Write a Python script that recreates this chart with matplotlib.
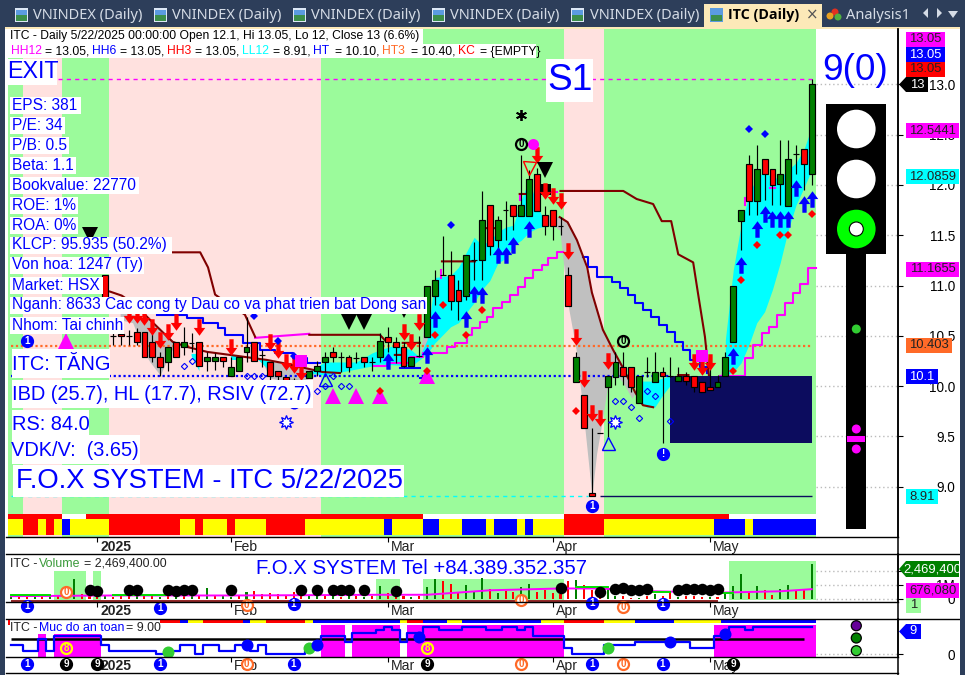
import numpy as np
import matplotlib
matplotlib.use("Agg")
import matplotlib.pyplot as plt
from matplotlib.path import Path
from matplotlib.patches import Rectangle, Circle, Polygon
from matplotlib.transforms import ScaledTranslation

plt.rcParams['font.family'] = ['Liberation Sans', 'DejaVu Sans']

W, H = 965, 675
NAN = float('nan')

# ---------- price candles ----------
first_bar = 12
opens = [11.10,10.50,10.52,10.50,10.54,10.54,10.44,10.29,10.24,10.44,10.39,10.43,10.44,10.25,10.25,10.29,10.10,10.15,10.34,10.44,10.31,10.24,10.15,10.09,10.06,10.05,10.08,10.15,10.24,10.34,10.29,10.29,10.28,10.29,10.24,10.29,10.49,10.44,10.39,10.20,10.30,10.49,10.90,11.10,11.10,10.96,10.90,11.25,11.25,11.80,11.45,11.75,11.80,11.69,11.69,12.11,11.70,11.75,11.59,11.10,10.04,9.91,8.94,9.53,9.99,10.09,10.19,10.19,9.83,10.14,10.04,10.14,10.10,10.05,10.10,10.10,10.04,9.99,9.99,10.10,10.44,11.64,12.21,11.84,12.26,12.16,12.01,11.79,12.31,12.36,12.11]
highs = [11.10,10.56,10.54,10.56,10.58,10.54,10.54,10.34,10.39,10.44,10.59,10.53,10.44,10.34,10.33,10.29,10.29,10.29,10.69,10.44,10.36,10.24,10.15,10.09,10.08,10.07,10.15,10.25,10.34,10.39,10.34,10.31,10.34,10.29,10.29,10.53,10.59,10.49,10.44,10.29,10.50,11.00,11.15,11.49,11.34,11.05,11.30,11.43,11.94,11.80,11.69,11.84,11.80,12.30,12.15,12.17,11.79,11.75,11.68,11.18,10.34,9.91,9.58,9.53,10.10,10.34,10.34,10.19,10.10,10.29,10.34,10.19,10.29,10.19,10.14,10.10,10.04,10.19,10.11,10.34,11.00,11.75,12.30,12.40,12.26,12.16,12.45,12.45,12.40,12.36,13.05]
lows = [10.85,10.41,10.41,10.41,10.41,10.29,10.24,10.10,10.15,10.29,10.31,10.34,10.20,10.15,10.16,10.19,10.10,10.15,10.24,10.25,10.19,10.05,10.05,10.05,10.03,10.02,10.08,10.10,10.14,10.24,10.14,10.14,10.23,10.19,10.15,10.24,10.34,10.23,10.19,10.20,10.29,10.49,10.81,11.10,10.76,10.66,10.86,11.05,11.05,11.30,11.35,11.45,11.55,11.69,11.69,11.74,11.50,11.45,11.50,10.80,10.04,9.58,8.91,9.53,9.49,10.01,10.01,9.94,9.83,10.09,10.04,9.43,10.09,10.05,10.01,9.94,9.94,9.96,9.99,10.10,10.44,11.35,11.70,11.70,11.85,11.80,11.80,11.79,12.11,11.95,12.00]
closes = [10.88,10.50,10.50,10.50,10.44,10.29,10.29,10.19,10.39,10.29,10.44,10.43,10.20,10.29,10.29,10.25,10.19,10.29,10.39,10.25,10.31,10.10,10.10,10.06,10.04,10.03,10.15,10.20,10.29,10.29,10.29,10.19,10.28,10.24,10.24,10.45,10.44,10.39,10.20,10.29,10.30,11.00,11.05,11.10,10.85,10.85,11.30,11.25,11.65,11.39,11.65,11.75,11.69,11.80,12.06,11.74,11.59,11.59,11.59,10.80,10.29,9.58,8.91,9.53,10.10,10.24,10.10,9.99,10.10,10.14,10.14,10.10,10.10,10.10,10.05,9.99,9.94,9.96,10.04,10.29,11.00,11.75,11.84,12.16,12.11,12.00,12.11,12.26,12.31,12.21,13.00]

# ---------- background zones (bar edges) ----------
zone_edges = [-0.5, 1.5, 6.5, 12.5, 39.5, 70.5, 75.5, 102.5]
zone_kinds = ['g', 'p', 'g', 'p', 'g', 'p', 'g']

# ---------- indicator lines ----------
darkred_a_x = [20.5,24.1,25.1,26,26.9,29.8,31.1]
darkred_a_y = [11.33,11.33,11.18,10.91,10.86,10.71,10.49]
darkred_b_x = [12.6,14.1,15.8,17.7,19.4,20.6,22.4,25,27.9,32.6,34.6,39.7,41.9]
darkred_b_y = [10.94,10.90,10.81,10.66,10.53,10.44,10.39,10.34,10.31,10.26,10.23,10.14,10.13]
darkred_c_x = [38,47,47.7,NAN,48.9,49.9,NAN,49.9,52.1,NAN,54.9,59.1,NAN,60.4,61.7,NAN,64.8,65.6,NAN,85,86.3]
darkred_c_y = [10.51,10.51,10.45,NAN,10.31,10.31,NAN,10.43,10.43,NAN,11.24,11.24,NAN,11.57,11.57,NAN,11.91,11.91,NAN,10.11,10.11]
darkred_d_x = [70,78,79.7,81.8,82.9,84.1,85,86.9,87.5,88.4,88.9]
darkred_d_y = [11.94,11.94,11.86,11.81,11.64,11.64,11.31,11.23,10.93,10.49,10.11]
darkred_e_x = [69.9,70.9,72.1,73.4,74,75.4,76.7,77.9,79.5,80.5,81.8]
darkred_e_y = [11.68,11.63,11.45,11.18,10.93,10.56,10.36,10.19,9.94,9.81,9.79]

blue_a_x = [18.6,19.4,22.4,24.5,26.4,27.3,29.6,31.7,33.6,35.9,37.7,39.4]
blue_a_y = [10.71,10.71,10.68,10.63,10.58,10.51,10.43,10.36,10.33,10.28,10.23,10.23]
blue_b_x = [72.9,73.5,74.6,76.6,77.6,78.6,79.5,80.5,81.5,82.5,83.6,84.6,85.6,86.5,87.8,88.7]
blue_b_y = [11.28,11.18,11.08,11.03,10.98,10.91,10.83,10.76,10.69,10.61,10.54,10.44,10.36,10.26,10.19,10.13]
blue_c_x = [49.5,52.1,NAN,52.1,53.2]
blue_c_y = [10.18,10.18,NAN,10.08,10.08]

magenta_a_x = [31.1,38]
magenta_a_y = [10.48,10.52]
magenta_b_x = [46.1,47.9,50.8,52.5,54.6,55.5,56.6,58.1,58.7,59.7,60.6,61.4,62.5,63.6,64.6,65.5,66.5,67.6,68.4,69.5,70.3]
magenta_b_y = [10.20,10.23,10.29,10.33,10.33,10.39,10.43,10.51,10.58,10.64,10.69,10.78,10.84,10.91,10.99,11.07,11.15,11.20,11.27,11.33,11.33]
magenta_c_x = [90.3,93.5,94.5,95.7,96.5,97.6,98.6,99.6,100.5,101.5,102.5]
magenta_c_y = [10.10,10.28,10.41,10.53,10.59,10.71,10.83,10.93,11.02,11.17,11.17]
magenta_d_x = [54.8,54.8,NAN,64.8,64.8,NAN,68.7,69.5,NAN,93.5,93.5,NAN,96.7,97.3]
magenta_d_y = [11.15,11.07,NAN,11.90,11.85,NAN,11.93,11.93,NAN,11.87,11.80,NAN,11.97,11.97]

# ---------- filled bands ----------
cyan1_x = [38,40,42,44,46,47,49,51,52,53,54,56,57,59,60,61,62,63,64,65,66,67,68]
cyan1_up = [10.15,10.24,10.24,10.24,10.33,10.36,10.41,10.36,10.29,10.46,11.08,11.10,11.18,11.48,11.40,11.45,11.53,11.58,11.60,11.85,12.05,11.80,11.63]
cyan1_lo = [10.13,10.11,10.14,10.17,10.20,10.22,10.21,10.20,10.26,10.32,10.43,10.59,10.63,10.83,10.96,11.05,11.22,11.27,11.40,11.45,11.53,11.57,11.59]
cyan2_x = [91,92,93,94,95,96,97,98,99,100,101,102]
cyan2_up = [10.46,11.15,11.60,11.90,12.08,12.13,12.07,12.07,12.15,12.22,12.35,12.58]
cyan2_lo = [10.11,10.14,10.23,10.41,10.63,10.74,10.96,11.23,11.55,11.80,11.97,12.15]
cyan3_x = [80,81,82,83,84]
cyan3_up = [10.05,10.05,10.05,10.08,10.10]
cyan3_lo = [9.86,9.79,9.79,9.91,10.01]
cyan4_x = [23,24,NAN,28,29,NAN,31.5,33]
cyan4_up = [10.32,10.32,NAN,10.31,10.31,NAN,10.26,10.26]
cyan4_lo = [10.30,10.15,NAN,10.26,10.26,NAN,10.26,10.15]

grey1_x = [13.9,15.5,17,17.7,19,20.5,21.5]
grey1_up = [10.73,10.71,10.68,10.66,10.57,10.46,10.41]
grey1_lo = [10.66,10.63,10.33,10.24,10.11,10.36,10.39]
grey2_x = [32,33,34.9,36.8,38.1,39.4]
grey2_up = [10.26,10.25,10.22,10.19,10.17,10.15]
grey2_lo = [10.24,10.08,10.05,10.05,10.08,10.12]
grey3_x = [52.1,52.6,53.1]
grey3_up = [10.29,10.61,10.86]
grey3_lo = [10.26,10.31,10.46]
grey4_x = [68,69,69.9,71,72,73,74,74.6,75.4,76,77,78,79.1,79.5]
grey4_up = [11.70,11.69,11.68,11.63,11.45,11.23,10.93,10.76,10.56,10.46,10.34,10.19,9.96,9.93]
grey4_lo = [11.60,11.60,11.55,10.79,10.36,9.66,8.91,9.33,9.69,10.01,10.13,10.03,9.88,9.93]
grey5_x = [90.3,91.2]
grey5_up = [10.10,10.36]
grey5_lo = [10.10,10.10]

# ---------- signals ----------
red_arrow_x = [15,16,17,18,19,20,21,24,28,33,34,35,36,37,50,51,52,67,68,69,70,71,72,73,74,75,76,87,88,89]
red_arrow_y = [10.71,10.71,10.69,10.59,10.46,10.54,10.64,10.59,10.39,10.44,10.36,10.24,10.21,10.14,10.54,10.44,10.64,12.30,11.94,11.89,11.84,11.34,10.49,10.07,9.73,9.68,10.25,10.24,10.19,10.24]
blue_arrow_x = [48,53,54,58,59,60,62,63,64,66,92,93,95,96,97,98,99,100,101,102]
blue_arrow_y = [10.25,10.31,10.67,10.67,10.92,10.91,11.30,11.30,11.40,11.56,10.30,11.20,11.56,11.71,11.66,11.66,11.66,11.97,11.81,11.86]
red_dot_x = [55,54,58,60,47,53,93,95,98,99,102,72,92]
red_dot_y = [10.81,10.51,10.51,10.76,9.95,10.15,11.05,11.40,11.50,11.50,11.71,9.75,10.15]
blue_dot_x = [94,96,56,31,34,36]
blue_dot_y = [12.56,12.51,11.60,10.70,10.45,10.30]
hollow_x = [22,23,30,31,32,39,40,41,42,43,77,78,79,80,81,82,84]
hollow_y = [10.20,10.25,10.10,10.10,10.10,9.95,10.00,10.10,10.00,10.00,9.85,9.85,9.79,9.68,9.95,9.90,9.65]
pink_tri_x = [7,41,44,47,53]
pink_tri_y = [10.45,9.90,9.90,9.90,10.10]
black_tri_x = [10,43,45,68]
black_tri_y = [11.50,10.64,10.64,12.15]
pink_sq_x = [37,88]
pink_sq_y = [10.25,10.30]

lvl_hh = 13.05
lvl_ht = 10.10
lvl_ht3 = 10.403
lvl_ll = 8.91

# ---------- colour strip ----------
strip2_edges = [-0.5,1.5,3.5,4.5,5.5,6.5,7.5,12.5,21.5,23.5,24.5,27.5,28.5,32.5,37.5,47.5,48.5,52.5,54.5,57.5,60.5,61.5,64.5,65.5,66.5,70.5,75.5,89.5,93.5,94.5,102.5]
strip2_seq = ['y','r','y','r','y','b','y','r','y','r','y','r','y','r','y','b','y','b','y','b','y','b','y','b','y','r','y','b','y','b']
strip1_edges = [-0.5,6.5,9.5,52.5,70.5,91.5,102.5]
strip1_cols = list("rwrwrw")

# ---------- volume panel (millions) ----------
volume = [.19,.19,.24,.19,.19,.19,.19,.36,1.43,.36,.24,.19,.19,.12,.19,.24,.19,.19,.24,.14,.24,.29,.19,.24,.19,.76,.24,.19,.14,.19,.48,.60,.36,.43,.36,.29,.48,.19,.29,.19,.19,.24,.14,.19,.19,.14,.24,.90,.43,.24,.19,.12,.24,.83,1.43,1.31,1.07,.48,1.00,.52,1.48,.71,.43,.60,.52,.83,1.07,.48,.67,.43,.36,1.31,1.36,1.00,.67,.24,.71,.19,.24,.07,.07,.19,.36,.19,.48,.17,.19,.19,.12,.12,.12,.48,.95,1.79,.52,.90,.64,.29,.71,1.00,.64,.71,2.47]
vol_kind = "grrgrgrggrrrgrrrgrrgrgrgrgrggrgrrrrrrrggrgrgrgrgrrrgrggrrrgggrgrrggrrrrrgrrrggrrgrgrrgrrrgrgggrgrrggrrg"
ma_x = [0,13,28,37,47,53,61,70,75,82,90,94,98,102]
ma_y = [.20,.25,.25,.27,.30,.30,.62,.75,.75,.55,.45,.50,.55,.70]
ma_green_x = [0,5,NAN,13,20,NAN,72,76,NAN,81,84,NAN,90,92]
ma_green_y = [.25,.25,NAN,.25,.25,NAN,.82,.82,NAN,.50,.50,NAN,.43,.43]
vol_zone_x0 = [5.5,10.5,46.5,52.5,91.5]
vol_zone_x1 = [9.5,11.5,49.5,70.5,102.5]
vol_zone_top = [2.0,2.0,1.43,1.43,2.71]
vol_dot_x = [10,11,15,16,20,21,22,23,28,37,39,41,42,43,45,49,70,75,77,78,79,80,81,85,86,87,88,89,90]
vol_dot_y = [.64,.60,.64,.64,.64,.58,.62,.66,.64,.64,.64,.64,.64,.64,.62,.60,.78,.50,.72,.76,.66,.62,.72,.64,.72,.72,.68,.66,.72]

# ---------- safety level panel ----------
safety = [3,3,1,1,5,1,6,6,6,6,6,6,3,1,1,1,1,1,1,0,0,1,3,3,0,3,3,1,1,3,3,1,3,0,0,0,0,0,1,3,6,6,6,4,7,7,7,8,9,8,4,7,7,9,9,8,8,8,9,9,9,8,8,9,9,8,9,6,6,6,6,2,0,0,0,0,3,3,3,3,4,4,4,4,4,4,4,2,2,2,6,6,9,9,8,9,9,9,9,9,9,9,9]
safety_line = 5
mag_edges0 = [3.5,5.5,39.5,43.5,50.5,89.5]
mag_edges1 = [4.5,11.5,42.5,49.5,70.5,102.5]
mag_tops = [6.5,6.5,9.7,9.7,9.7,9.7]
s_strip_edges = [19,21.5,22.5,24.5,29.5,30.5,32.5,37.5,38.5,49.5,50.5,52.5,55.5,57.5,67.5,70.5,75.5,79.5,84.5,90.5,102.5]
s_strip_seq = ['r','b','y','r','b','y','r','y','b','y','r','b','y','b','y','r','y','b','y','b']
s_dot_x = [20,30,38,39,52,76,84,91]
s_dot_y = [.7,3,2,3,5.7,2,4,6.7]
s_dot_k = ['lime','blue','lime','blue','blue','lime','blue','blue']

tick_pos = [11, 28, 48, 69, 89]
tick_txt = ['2025', 'Feb', 'Mar', 'Apr', 'May']

# ---------- colours ----------
C = {'g': '#9BFB9B', 'p': '#FFE1DF', 'r': '#FF0000', 'y': '#FFFF00', 'b': '#0000FF', 'w': '#FFFFFF'}
GREEN, RED, BLUE, MAG, CYAN = '#008000', '#FF0000', '#0000FF', '#FF00FF', '#00FFFF'
DKRED, ORANGE, NAVY, GREY = '#800000', '#FF6A28', '#0C0C5E', '#C0C0C0'
BG = '#2D3E5A'


def ax_px(x0, y0, x1, y1, z):
    a = fig.add_axes([x0 / W, 1 - y1 / H, (x1 - x0) / W, (y1 - y0) / H], zorder=z)
    a.patch.set_alpha(0)
    return a


fig = plt.figure(figsize=(W / 100, H / 100), dpi=100, facecolor=BG)
back = ax_px(0, 0, W, H, 0)
back.set_xlim(0, W); back.set_ylim(H, 0); back.axis('off')
over = ax_px(0, 0, W, H, 10)
over.set_xlim(0, W); over.set_ylim(H, 0); over.axis('off')


def rect(a, x0, y0, x1, y1, c, z=1, **k):
    a.add_patch(Rectangle((x0, y0), x1 - x0, y1 - y0, fc=c, ec='none', zorder=z, **k))


rect(back, 5, 29, 960, 675, 'white')
rect(back, 5, 27, 960, 29, '#FCE9B8')

XL = ((8 - 11) / 7.85, (898 - 11) / 7.85)
m = ax_px(8, 29, 898, 537, 2)
m.set_xlim(*XL); m.set_ylim(8.50, 13.55)
v = ax_px(8, 554, 898, 601.5, 2)
v.set_xlim(*XL); v.set_ylim(-0.18, 3.21)
s = ax_px(8, 618.5, 898, 656.5, 2)
s.set_xlim(*XL); s.set_ylim(-0.83, 11.83)
strip = ax_px(8, 514, 898, 535, 3)
strip.set_xlim(*XL); strip.set_ylim(21, 0); strip.axis('off')

PX = 0.72
for a in (m, v, s):
    for k in ('top', 'left', 'bottom'):
        a.spines[k].set_visible(False)
    a.spines['right'].set_linewidth(1.1)
    a.yaxis.tick_right()
    a.tick_params(axis='y', length=5 * PX, width=0.8, pad=50 * PX - 5 * PX + 5, labelsize=13.5 * PX)
    a.set_xticks(tick_pos)
    a.set_xticklabels(tick_txt, ha='left', fontsize=14 * PX, color='#222222')
    a.tick_params(axis='x', length=5 * PX, direction='out', width=0.8, pad=-1.5)
    a.get_xticklabels()[0].set_fontweight('bold')
    shift = ScaledTranslation(3 / 100, 0, fig.dpi_scale_trans)
    for t in a.get_xticklabels():
        t.set_transform(t.get_transform() + shift)
    for t in a.get_yticklabels():
        t.set_ha('right')

# ---- main panel ----
for i, k in enumerate(zone_kinds):
    m.axvspan(zone_edges[i], zone_edges[i + 1], color=C[k], lw=0, zorder=0.1)
m.set_yticks([9, 9.5, 10, 10.5, 11, 11.5, 12, 12.5, 13])
m.set_yticklabels(['9.0', '9.5', '10.0', '10.5', '11.0', '11.5', '12.0', '12.5', '13.0'], ha='right')
m.hlines([9, 9.5, 10, 10.5, 11, 11.5, 12, 12.5, 13], 102.5, XL[1], color='#BBBBBB', lw=1, linestyles=(0, (1, 2)), zorder=0.2)

m.fill_between(grey1_x, grey1_lo, grey1_up, color=GREY, lw=0, zorder=0.5)
m.fill_between(grey2_x, grey2_lo, grey2_up, color=GREY, lw=0, zorder=0.5)
m.fill_between(grey3_x, grey3_lo, grey3_up, color=GREY, lw=0, zorder=0.5)
m.fill_between(grey4_x, grey4_lo, grey4_up, color=GREY, lw=0, zorder=0.5)
m.fill_between(grey5_x, grey5_lo, grey5_up, color=GREY, lw=0, zorder=0.5)
for bx, bu, bl in ((cyan1_x, cyan1_up, cyan1_lo), (cyan2_x, cyan2_up, cyan2_lo), (cyan3_x, cyan3_up, cyan3_lo), (cyan4_x, cyan4_up, cyan4_lo)):
    m.fill_between(bx, bl, bu, color=CYAN, lw=0, zorder=0.6)

m.hlines(lvl_hh, 6, 102, color=MAG, lw=1, linestyles=(0, (3, 3)), zorder=1)
m.hlines(lvl_ht3, 0, 102, color=ORANGE, lw=1.6, linestyles=(0, (1, 1.2)), zorder=1)
m.hlines(lvl_ht, 0, 84, color=BLUE, lw=1.6, linestyles=(0, (1, 1.2)), zorder=1)
m.hlines(lvl_ll, 0, 73.5, color=CYAN, lw=1, linestyles=(0, (3, 3)), zorder=1)
m.hlines(lvl_ll, 75, 102, color=NAVY, lw=1, zorder=1)

lw = 1.5
for lx, ly in ((blue_a_x, blue_a_y), (blue_b_x, blue_b_y), (blue_c_x, blue_c_y)):
    m.plot(lx, ly, color=BLUE, lw=lw, drawstyle='steps-post', zorder=1.2)
for lx, ly in ((magenta_a_x, magenta_a_y), (magenta_b_x, magenta_b_y), (magenta_c_x, magenta_c_y)):
    m.plot(lx, ly, color=MAG, lw=lw, drawstyle='steps-post' if lx is not magenta_a_x else 'default', zorder=1.2)
m.plot(magenta_d_x, magenta_d_y, color=MAG, lw=lw, zorder=1.2)
for lx, ly in ((darkred_a_x, darkred_a_y), (darkred_b_x, darkred_b_y), (darkred_c_x, darkred_c_y), (darkred_d_x, darkred_d_y), (darkred_e_x, darkred_e_y)):
    m.plot(lx, ly, color=DKRED, lw=lw, zorder=1.3)

m.bar([84], [10.10 - 9.43], bottom=[9.43], width=18, align='edge', color=NAVY, lw=0, zorder=1.4)

# candles
idx = np.arange(first_bar, first_bar + len(closes))
o, h, l, c = map(np.array, (opens, highs, lows, closes))
m.vlines(idx, l, h, color='black', lw=0.85, zorder=3)
bcol = [GREEN if cc > oo else (RED if cc < oo else 'black') for oo, cc in zip(o, c)]
bot = np.minimum(o, c)
m.bar(idx, np.abs(c - o), bottom=bot, width=0.74, color=bcol, edgecolor='black', lw=0.85, zorder=3.2)

arrow_down = Path([(-.26, 1), (.26, 1), (.26, -.05), (.7, -.05), (0, -1), (-.7, -.05), (-.26, -.05), (-.26, 1)], closed=True)
arrow_up = Path([(-.26, -1), (.26, -1), (.26, .05), (.7, .05), (0, 1), (-.7, .05), (-.26, .05), (-.26, -1)], closed=True)
mk = dict(ls='none', zorder=4)
m.plot(pink_tri_x, pink_tri_y, marker='^', ms=15 * PX * 1.1, color=MAG, mew=0, **mk)
m.plot(red_arrow_x, red_arrow_y, marker=arrow_down, ms=16.5 * PX, color=RED, mew=0, **mk)
m.plot(blue_arrow_x, blue_arrow_y, marker=arrow_up, ms=16.5 * PX, color=BLUE, mew=0, **mk)
m.plot(red_dot_x, red_dot_y, marker='D', ms=4.5, color=RED, mew=0, **mk)
m.plot(blue_dot_x, blue_dot_y, marker='D', ms=4.5, color=BLUE, mew=0, **mk)
m.plot(hollow_x, hollow_y, marker='D', ms=3.2, mfc='none', mec=BLUE, mew=0.8, **mk)
m.plot(black_tri_x, black_tri_y, marker='v', ms=15 * PX * 1.1, color='black', mew=0, **mk)
m.plot([50], [10.71], marker='v', ms=5, color='black', mew=0, **mk)
m.plot(pink_sq_x, pink_sq_y, marker='s', ms=12 * PX, color=MAG, mew=0, **mk)
m.plot([66.5], [12.41], marker='o', ms=11 * PX, color=MAG, mew=0, **mk)
m.plot([68], [11.96], marker='s', ms=11 * PX, color='black', mew=0, zorder=3.1, ls='none')
m.plot([65], [12.70], marker=(6, 2, 0), ms=11 * PX, color='black', mew=1.3, **mk)
m.plot([40, 76], [10.07, 9.43], marker='^', ms=13 * PX, mfc='none', mec=BLUE, mew=1, **mk)
m.plot([66], [12.17], marker='v', ms=13 * PX, mfc='none', mec=RED, mew=1, **mk)
m.plot([35, 77], [9.64, 9.64], marker=(8, 1, 0), ms=14 * PX, mfc='white', mec=BLUE, mew=0.9, **mk)
m.plot([36], [9.83], marker='o', ms=12 * PX, color=BLUE, mew=0, ls='none', zorder=2)


def badge(a, x, y, txt, ring, fc='white', tc=None):
    a.plot([x], [y], marker='o', ms=11 * PX, mfc=fc, mec=ring, mew=1.6, ls='none', zorder=8, clip_on=False)
    a.text(x, y, txt, ha='center', va='center', fontsize=8.5 * PX + 1, fontweight='bold',
           color=tc or ring, zorder=9, clip_on=False)


BLK = 'black'
for bx, by in ((2, 10.45), (74, 8.81)):
    badge(m, bx, by, '1', BLUE, BLUE, 'white')
badge(m, 83, 9.33, '!', BLUE, BLUE, 'white')
for bx, by in ((65, 12.41), (78, 10.45)):
    badge(m, bx, by, '0', BLK, '#9BFB9B', BLK)

# colour strip
for i, k in enumerate(strip1_cols):
    strip.bar(strip1_edges[i], 5, bottom=0, width=strip1_edges[i + 1] - strip1_edges[i], align='edge', color=C[k], lw=0)
for i, k in enumerate(strip2_seq):
    strip.bar(strip2_edges[i], 16, bottom=5, width=strip2_edges[i + 1] - strip2_edges[i], align='edge', color=C[k], lw=0)

# ---- volume panel ----
for x0, x1, tp in zip(vol_zone_x0, vol_zone_x1, vol_zone_top):
    v.bar(x0, tp + 0.07, bottom=-0.07, width=x1 - x0, align='edge', color=C['g'], lw=0, zorder=0.3)
v.set_yticks([0, 1, 2])
v.set_yticklabels(['0', '1M', '2M'], ha='right')
v.hlines([0, 1, 2], 102.5, XL[1], color='#BBBBBB', lw=1, linestyles=(0, (1, 2)), zorder=0.2)
vb = np.arange(len(volume))
v.bar(vb, volume, width=0.26, color=[GREEN if k == 'g' else RED for k in vol_kind[:len(volume)]], lw=0, zorder=1)
v.plot(ma_x, ma_y, color=MAG, lw=1.4, zorder=1.5)
v.plot(ma_green_x, ma_green_y, color='#00E000', lw=1.4, zorder=1.6)
v.hlines(-0.12, 0, 90, color=DKRED, lw=1.2, zorder=1.7)
v.plot(vol_dot_x, vol_dot_y, marker='o', ms=11.5 * PX, color='black', mew=0, ls='none', zorder=2)
OR = ORANGE
for bx, by in ((2, -.5), (19, -.64), (36, -.36), (74, -.29), (83, -.36)):
    badge(v, bx, by, '1', BLUE, BLUE, 'white')
for bx, by in ((7, .5), (30, -.43), (65, -.07), (78, -.57)):
    badge(v, bx, by, '0', OR, 'white', OR)

# ---- safety panel ----
for x0, x1, tp in zip(mag_edges0, mag_edges1, mag_tops):
    s.bar(x0, tp + 0.83, bottom=-0.83, width=x1 - x0, align='edge', color=MAG, lw=0, zorder=0.3)
for i, k in enumerate(s_strip_seq):
    s.bar(s_strip_edges[i], 1.6, bottom=10.2, width=s_strip_edges[i + 1] - s_strip_edges[i], align='edge', color=C[k], lw=0, zorder=0.4)
s.set_yticks([0])
s.set_yticklabels(['0'], ha='right')
s.hlines([0], 102.5, XL[1], color='#BBBBBB', lw=1, linestyles=(0, (1, 2)), zorder=0.2)
s.hlines(safety_line, 0, 101, color='black', lw=1.8, zorder=1)
s.step(np.arange(len(safety)), safety, where='mid', color=BLUE, lw=1.6, zorder=1.5)
for k, col in (('lime', '#32CD32'), ('blue', BLUE)):
    xs = [a for a, b in zip(s_dot_x, s_dot_k) if b == k]
    ys = [a for a, b in zip(s_dot_y, s_dot_k) if b == k]
    s.plot(xs, ys, marker='o', ms=12 * PX, color=col, mew=0, ls='none', zorder=2)
for bx in (2, 19, 36, 74, 83):
    badge(s, bx, -3.33, '1', BLUE, BLUE, 'white')
for bx in (7, 11, 53, 92):
    badge(s, bx, -3.33, '9', BLK, BLK, 'white')
for bx in (30, 65, 78):
    badge(s, bx, -3.33, '0', OR, 'white', OR)
for bx in (7, 53):
    badge(s, bx, 2, '8', '#FFFF00', '#FF00FF', '#FFFF00')

# ---- separators ----
for yy in (537, 554, 601.5, 618.5, 656.5, 673):
    over.plot([6, 898], [yy, yy], color='black', lw=1.0, zorder=1)
over.plot([898, 898], [29, 675], color='black', lw=1.1, zorder=1)
for yy, xa, xb in ((618.5, 898, 960), (554, 898, 960)):
    over.plot([xa, xb], [yy, yy], color='black', lw=1.0, zorder=1)


def T(x, y, txt, size, col=BLUE, box=None, ha='left', **k):
    if box:
        rect(over, box[0], box[1], box[2], box[3], box[4] if len(box) > 4 else 'white', z=2)
    over.text(x, y, txt, fontsize=size * PX, color=col, ha=ha, va='center', zorder=3, **k)


# ---- tabs ----
for tx, ix in ((33, 15), (172, 154), (311, 293), (450, 432), (590, 571)):
    rect(over, ix, 8, ix + 13, 22, '#DCE7F5', z=2)
    rect(over, ix + 1, 15, ix + 12, 21, '#3C8F4A', z=2.1)
    rect(over, ix + 1, 10, ix + 12, 15, '#5B9BE0', z=2.1)
    T(tx, 15.5, 'VNINDEX (Daily)', 14.6, '#D5DCE6', family='Noto Sans')
rect(over, 704, 4, 822, 27, '#FCE9B8', z=2)
rect(over, 710, 8, 723, 22, '#5B9BE0', z=2.1)
rect(over, 711, 15, 722, 21, '#3C8F4A', z=2.2)
T(728, 15.5, 'ITC (Daily)', 14.2, 'black', fontweight='bold', family='Open Sans')
T(812, 15, '×', 15, '#555555', ha='center', family='DejaVu Sans')
over.add_patch(Circle((835, 12), 3.5, fc='#E03020', ec='none', zorder=2))
over.add_patch(Circle((830, 16), 3.5, fc='#E8A020', ec='none', zorder=2))
over.add_patch(Circle((838, 17), 3.5, fc='#50B040', ec='none', zorder=2))
T(846, 15.5, 'Analysis1', 14.6, '#D5DCE6', family='Noto Sans')
over.add_patch(Polygon([(928, 8), (928, 18), (923, 13)], fc='#D5DCE6', zorder=2))
over.add_patch(Polygon([(937, 8), (937, 18), (942, 13)], fc='#D5DCE6', zorder=2))
over.add_patch(Polygon([(948, 11), (958, 11), (953, 18)], fc='#D5DCE6', zorder=2))

# ---- header ----
rect(over, 8, 29, 423, 44, 'white', z=2)
T(10, 36.5, 'ITC - Daily 5/22/2025 00:00:00 Open 12.1, Hi 13.05, Lo 12, Close 13 (6.6%)', 12.15, 'black')
rect(over, 8, 44, 536, 58, 'white', z=2)
for x, txt, col in ((10.5, 'HH12', MAG), (45, '= 13.05,', 'black'), (92, 'HH6', BLUE), (120, '= 13.05,', 'black'),
                    (167, 'HH3', RED), (195, '= 13.05,', 'black'), (242, 'LL12', CYAN), (273, '= 8.91,', 'black'),
                    (313, 'HT', BLUE), (335, '= 10.10,', 'black'), (382, 'HT3', ORANGE), (411, '= 10.40,', 'black'),
                    (458, 'KC', RED), (480, '= {EMPTY}', 'black')):
    T(x, 51.5, txt, 12.15, col)

# ---- left info block ----
T(7, 72, 'EXIT', 23.3, BLUE, box=(7, 59, 57, 85))
info = [('EPS: 381', 81), ('P/E: 34', 65), ('P/B: 0.5', 69), ('Beta: 1.1', 76), ('Bookvalue: 22770', 139),
        ('ROE: 1%', 78), ('ROA: 0%', 78), ('KLCP: 95.935 (50.2%)', 172), ('Von hoa: 1247 (Ty)', 144), ('Market: HSX', 103),
        ('Nganh: 8633 Cac cong ty Dau co va phat trien bat Dong san', 427), ('Nhom: Tai chinh', 124)]
for n, (txt, xr) in enumerate(info):
    yc = 105 + 20 * n
    T(11.5, yc, txt, 15.5, BLUE, box=(10, yc - 8.5, xr, yc + 8.5))
T(12.5, 364, 'ITC: TĂNG', 20, BLUE, box=(12, 349, 110, 378))
T(12.5, 395, 'IBD (25.7), HL (17.7), RSIV (72.7)', 20, BLUE, box=(12, 380, 313, 408))
T(12.5, 424, 'RS: 84.0', 20, BLUE, box=(12, 410, 89, 438))
T(11, 450, 'VDK/V:  (3.65)', 20, BLUE, box=(12, 435, 140, 464))
T(15.5, 481, 'F.O.X SYSTEM - ITC 5/22/2025', 27.4, BLUE, box=(13, 465, 404, 497))
T(256, 568, 'F.O.X SYSTEM Tel +84.389.352.357', 20.4, BLUE)
T(547, 81, 'S1', 37, BLUE, box=(546, 59, 593, 102))
T(822, 70, '9(0)', 37, BLUE)

T(10, 564, 'ITC -', 12.4, '#222222')
T(39, 564, 'Volume', 12.4, '#3A9A3A')
T(84, 564, '= 2,469,400.00', 12.4, '#222222')
rect(over, 8, 620, 10, 625, RED, z=2)
T(10, 628, 'ITC -', 12.4, '#222222')
T(39, 628, 'Muc do an toan', 12.4, BLUE)
T(126, 628, '= 9.00', 12.4, '#222222')

# ---- traffic light ----
rect(over, 826, 104, 886, 254, 'black', z=2)
rect(over, 846, 254, 866, 529, 'black', z=2)
for cy, col in ((129, 'white'), (179, 'white'), (229, '#00FF00')):
    over.add_patch(Circle((856.3, cy), 19.3, fc=col, ec='none', zorder=3))
over.add_patch(Circle((856.3, 229), 7, fc='white', ec='black', lw=0.8, zorder=4))
over.add_patch(Circle((856.3, 329), 4.5, fc='#32CD32', ec='none', zorder=3))
over.add_patch(Circle((856.3, 429), 4.5, fc=MAG, ec='none', zorder=3))
over.add_patch(Circle((856.3, 449), 4.5, fc=MAG, ec='none', zorder=3))
rect(over, 847, 436, 865, 442, MAG, z=3)
for cy, col in ((625.7, '#660099'), (638, '#008000'), (650.7, '#32CD32')):
    over.add_patch(Circle((856.3, cy), 5, fc=col, ec='black', lw=0.9, zorder=3))

# ---- right side value labels ----
labels = [('13.05', 906, 945, 32, MAG, '#222222'), ('13.05', 906, 945, 47, BLUE, 'white'), ('13.05', 906, 945, 62, RED, '#222222'),
          ('12.5441', 906, 959, 123, MAG, '#222222'), ('12.0859', 906, 959, 169, CYAN, '#222222'),
          ('11.1655', 906, 959, 262, MAG, '#222222'), ('10.403', 906, 952, 338, ORANGE, '#222222'),
          ('10.1', 906, 938, 369, BLUE, 'white'), ('8.91', 906, 938, 489, CYAN, '#222222'),
          ('676,080', 906, 959, 583, MAG, '#222222'), ('1', 906, 921, 598, C['g'], '#222222')]
for txt, x0, x1, y0, fc, tc in labels:
    T((x0 + x1) / 2, y0 + 7.5, txt, 13, tc, box=(x0, y0, x1, y0 + 15, fc), ha='center')
for txt, x1, y0, y1, fc, tc in (('13', 928, 77, 92, 'black', 'white'), ('2,469,400', 959, 561, 577, GREEN, 'white'),
                                ('9', 921, 624, 639, BLUE, 'white')):
    ym = (y0 + y1) / 2
    over.add_patch(Polygon([(899, ym), (906, y0), (x1, y0), (x1, y1), (906, y1)], fc=fc, ec='none', zorder=2))
    T((906 + x1) / 2, ym, txt, 13, tc, ha='center')

# right window edge
rect(over, 960, 27, 965, 675, BG, z=5)
rect(over, 0, 27, 5, 675, BG, z=5)

fig.savefig('out.png', dpi=100, facecolor=BG)
